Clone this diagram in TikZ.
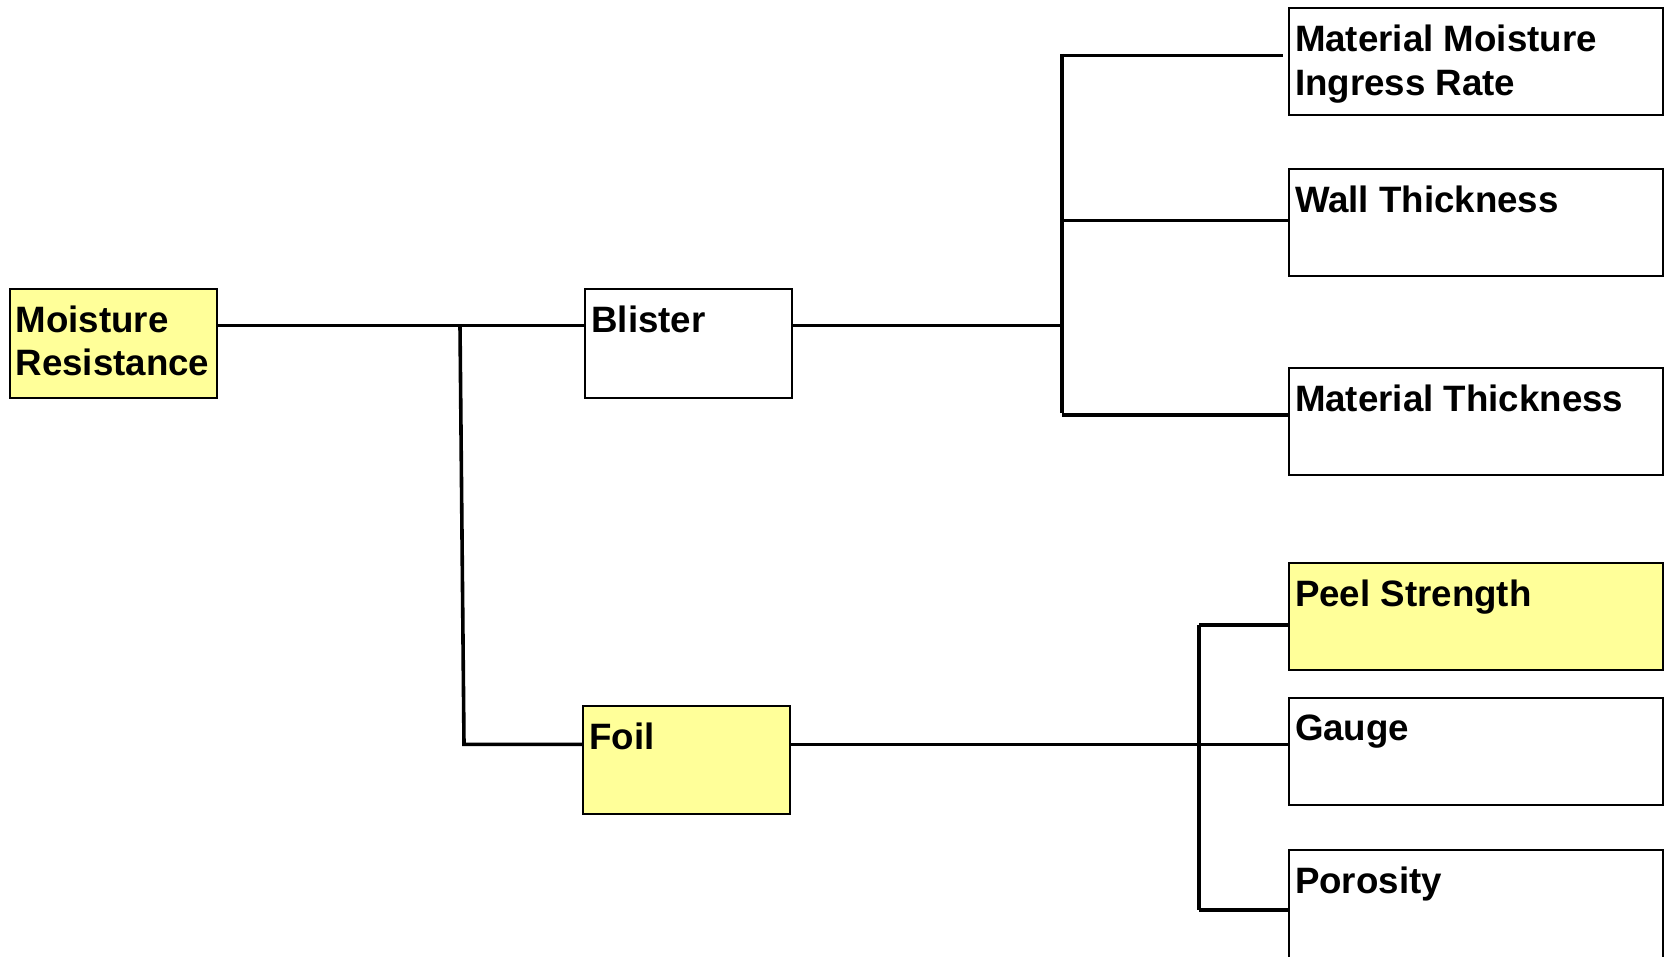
\documentclass[tikz,border=0pt]{standalone}
\usepackage{fontspec}
\setmainfont{Liberation Sans}
\definecolor{hlyellow}{HTML}{FFFF99}
\newcommand\hstrut{\rule{0pt}{0.8em}}
\begin{document}
\begin{tikzpicture}[x=0.5pt,y=-0.5pt,
  box/.style={draw=black,line width=1pt,outer sep=0pt,inner sep=0pt,anchor=north west},
  small/.style={box,minimum width=103.5pt,minimum height=54.5pt},
  big/.style={box,minimum width=187pt,minimum height=53.5pt},
  hl/.style={fill=hlyellow},
  lbl/.style={anchor=north west,inner sep=0pt,outer sep=0pt,align=left,font=\fontsize{18.35pt}{21.8pt}\selectfont\bfseries},
  conn/.style={line width=1.8pt,draw=black}]
\useasboundingbox (0,0) rectangle (1672,957);
% boxes
\node[small,hl] (mr) at (9.6,289) {};
\node[small] (bl) at (585.4,289) {};
\node[small,hl,minimum height=54pt] (fo) at (583.3,706) {};
\node[big] (b1) at (1289,8.5) {};
\node[big] (b2) at (1289,169.5) {};
\node[big] (b3) at (1289,368) {};
\node[big,hl] (pe) at (1289,563) {};
\node[big] (ga) at (1289,697.5) {};
\node[big,minimum height=70pt] (po) at (1289,850) {};
% labels
\node[lbl] (mr-t) at ([xshift=3pt,yshift=-6.9pt]mr.north west) {\hstrut Moisture\\Resistance};
\node[lbl] (bl-t) at ([xshift=3pt,yshift=-6.9pt]bl.north west) {\hstrut Blister};
\node[lbl] (fo-t) at ([xshift=3pt,yshift=-6.9pt]fo.north west) {\hstrut Foil};
\node[lbl] (b1-t) at ([xshift=3pt,yshift=-6.9pt]b1.north west) {\hstrut Material Moisture\\Ingress Rate};
\node[lbl] (b2-t) at ([xshift=3pt,yshift=-6.9pt]b2.north west) {\hstrut Wall Thickness};
\node[lbl] (b3-t) at ([xshift=3pt,yshift=-6.9pt]b3.north west) {\hstrut Material Thickness};
\node[lbl] (pe-t) at ([xshift=3pt,yshift=-6.9pt]pe.north west) {\hstrut Peel Strength};
\node[lbl] (ga-t) at ([xshift=3pt,yshift=-6.9pt]ga.north west) {\hstrut Gauge};
\node[lbl] (po-t) at ([xshift=3pt,yshift=-6.9pt]po.north west) {\hstrut Porosity};
% junctions
\coordinate (j1) at (460,325.5);
\coordinate (j2) at (464,744.3);
\coordinate (k0) at (1062,54);
\coordinate (k1) at (1062,413);
\coordinate (k2) at (1199,625);
\coordinate (k3) at (1199,910);
\coordinate (b1in) at ([yshift=-23.5pt]b1.north west);
\coordinate (b2in) at ([yshift=-25.6pt]b2.north west);
\coordinate (b3in) at ([yshift=-23.4pt]b3.north west);
% connectors
\draw[conn] (mr.east |- j1) -- (bl.west |- j1);
\draw[conn] (j1) -- (j2) -- (fo.west |- j2);
\draw[conn] (bl.east |- j1) -- (k0 |- j1);
\draw[conn] (k0) -- (k1);
\draw[conn] (k0 |- b1in) -- ([xshift=-3pt]b1in);
\draw[conn] (k0 |- b2in) -- (b2in);
\draw[conn] (k0 |- b3in) -- (b3in);
\draw[conn] (fo.east |- j2) -- (ga.west |- j2);
\draw[conn] (k2) -- (k3);
\draw[conn] (k2) -- (pe.west |- k2);
\draw[conn] (k3) -- (po.west |- k3);
\end{tikzpicture}
\end{document}
